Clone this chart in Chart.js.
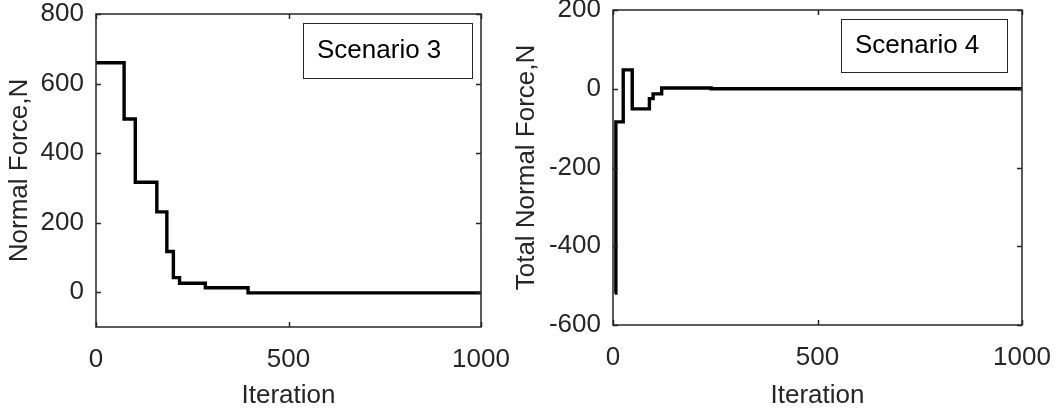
<!DOCTYPE html>
<html>
<head>
<meta charset="utf-8">
<script src="https://cdn.jsdelivr.net/npm/chart.js@4/dist/chart.umd.min.js"></script>
<style>
  html, body { margin: 0; padding: 0; background: #fff; }
  #wrap { position: relative; width: 1055px; height: 411px; }
  .c { position: absolute; top: 0; height: 411px; }
  #left { left: 0; width: 510px; }
  #right { left: 505px; width: 550px; }
</style>
</head>
<body>
<div id="wrap">
  <div class="c" id="left"><canvas id="c3"></canvas></div>
  <div class="c" id="right"><canvas id="c4"></canvas></div>
</div>
<script>
// scenario 3: iteration where each level starts, and the level (N)
const s3Iter = [0, 73, 102, 158, 184, 201, 217, 284, 395, 1000];
const s3Force = [660, 498, 316, 231, 117, 42, 26, 13, -2, -2];

// scenario 4: total normal force
const s4Iter = [4, 7, 25, 47, 89, 98, 119, 240, 1000];
const s4Force = [-519, -84, 48, -51, -25, -13, 2, 0, 0];

const xTicks = [0, 500, 1000];
const s3Ticks = [0, 200, 400, 600, 800];
const s4Ticks = [-600, -400, -200, 0, 200];

const ink = '#262626';
const fam = '"Liberation Sans", Arial, sans-serif';

function pts(xs, ys) {
  return xs.map((x, i) => ({ x: x, y: ys[i] }));
}

// box around the plot, inward ticks, and the scenario label
const matlabBox = {
  id: 'matlabBox',
  afterDraw(chart, args, opts) {
    const ctx = chart.ctx;
    const a = chart.chartArea;
    const t = 5;
    ctx.save();
    ctx.strokeStyle = ink;
    ctx.lineWidth = 1.5;
    ctx.strokeRect(a.left, a.top, a.right - a.left, a.bottom - a.top);
    ctx.beginPath();
    chart.scales.y.ticks.forEach(tk => {
      const py = Math.round(chart.scales.y.getPixelForValue(tk.value)) + 0.5;
      ctx.moveTo(a.left, py); ctx.lineTo(a.left + t, py);
      ctx.moveTo(a.right, py); ctx.lineTo(a.right - t, py);
    });
    chart.scales.x.ticks.forEach(tk => {
      const px = Math.round(chart.scales.x.getPixelForValue(tk.value)) + 0.5;
      ctx.moveTo(px, a.bottom); ctx.lineTo(px, a.bottom - t);
      ctx.moveTo(px, a.top); ctx.lineTo(px, a.top + t);
    });
    ctx.stroke();

    const b = opts.box;
    const bx = a.left + b.dx, by = a.top + b.dy;
    ctx.fillStyle = '#fff';
    ctx.fillRect(bx, by, b.w, b.h);
    ctx.lineWidth = 1;
    ctx.strokeStyle = ink;
    ctx.strokeRect(bx + 0.5, by + 0.5, b.w, b.h);
    ctx.fillStyle = '#000';
    ctx.font = '26px ' + fam;
    ctx.textAlign = 'left';
    ctx.textBaseline = 'middle';
    ctx.fillText(b.text, bx + 14, by + b.h / 2);
    ctx.restore();
  }
};

function makeChart(id, data, yMin, yMax, yTicks, yTitle, cfg) {
  return new Chart(document.getElementById(id), {
    type: 'line',
    data: {
      datasets: [{
        data: data,
        stepped: 'before',
        borderColor: '#000',
        borderWidth: 3.4,
        pointRadius: 0,
        fill: false
      }]
    },
    options: {
      responsive: true,
      maintainAspectRatio: false,
      animation: false,
      layout: { padding: { top: cfg.top, right: cfg.right, left: 0, bottom: 0 } },
      plugins: {
        legend: { display: false },
        tooltip: { enabled: false },
        matlabBox: { box: cfg.box }
      },
      scales: {
        x: {
          type: 'linear',
          min: 0, max: 1000,
          afterBuildTicks: s => { s.ticks = xTicks.map(v => ({ value: v })); },
          afterFit: s => { s.height = cfg.xh; s.paddingLeft = 0; s.paddingRight = 0; },
          grid: { display: false, drawTicks: false, tickLength: 0 },
          border: { display: false },
          ticks: { color: ink, font: { family: fam, size: 26 }, padding: 17, maxRotation: 0, callback: v => String(v) },
          title: { display: true, text: 'Iteration', color: ink, font: { family: fam, size: 26 }, padding: { top: 4, bottom: 0 } }
        },
        y: {
          type: 'linear',
          min: yMin, max: yMax,
          afterBuildTicks: s => { s.ticks = yTicks.map(v => ({ value: v })); },
          afterFit: s => { s.width = cfg.yw; s.paddingTop = 0; s.paddingBottom = 0; },
          grid: { display: false, drawTicks: false, tickLength: 0 },
          border: { display: false },
          ticks: { color: ink, font: { family: fam, size: 26 }, padding: 12, callback: v => String(v) },
          title: { display: true, text: yTitle, color: ink, font: { family: fam, size: 26 }, padding: { top: cfg.tp, bottom: 0 } }
        }
      }
    },
    plugins: [matlabBox]
  });
}

makeChart('c3', pts(s3Iter, s3Force), -100, 800, s3Ticks, 'Normal Force,N',
  { top: 14, right: 29, yw: 96, xh: 84, tp: 4, box: { dx: 207, dy: 9, w: 169, h: 55, text: 'Scenario 3' } });

makeChart('c4', pts(s4Iter, s4Force), -600, 200, s4Ticks, 'Total Normal Force,N',
  { top: 10, right: 33, yw: 108, xh: 86, tp: 6, box: { dx: 228, dy: 9, w: 166, h: 53, text: 'Scenario 4' } });
</script>
</body>
</html>
